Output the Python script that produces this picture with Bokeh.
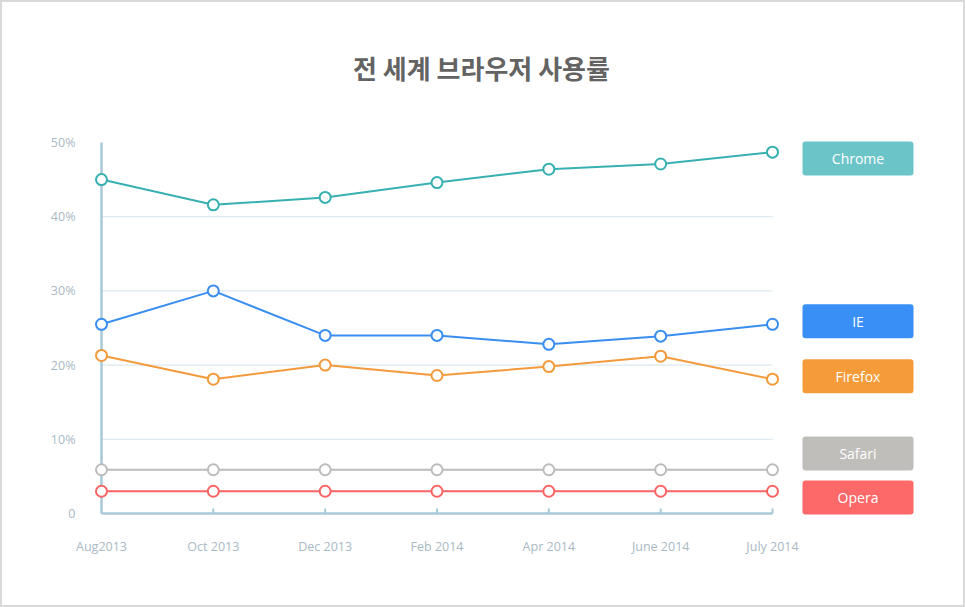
from bokeh.plotting import figure
from bokeh.models import Label, ColumnDataSource, Range1d, BoxAnnotation
from bokeh.core.properties import value
from bokeh.embed import file_html
from bokeh.resources import INLINE

# ---------------- data ----------------
months = ["Aug2013", "Oct 2013", "Dec 2013", "Feb 2014", "Apr 2014", "June 2014", "July 2014"]
browsers = ["Chrome", "IE", "Firefox", "Safari", "Opera"]
chrome = [45.0, 41.6, 42.6, 44.6, 46.4, 47.1, 48.7]
ie = [25.5, 30.0, 24.0, 24.0, 22.8, 23.9, 25.5]
firefox = [21.3, 18.1, 20.0, 18.6, 19.8, 21.2, 18.1]
safari = [5.9, 5.9, 5.9, 5.9, 5.9, 5.9, 5.9]
opera = [3.0, 3.0, 3.0, 3.0, 3.0, 3.0, 3.0]
y_ticks = [0, 10, 20, 30, 40, 50]
y_tick_labels = ["0", "10%", "20%", "30%", "40%", "50%"]
title_text = "전 세계 브라우저 사용률"

series = [chrome, ie, firefox, safari, opera]
line_colors = ["#38b0b1", "#3a8ef0", "#f39b3c", "#bcbcbc", "#fc6464"]
box_colors = ["#6bc5c8", "#3a8ff6", "#f59b3a", "#c0bebb", "#fd6868"]

# ---------------- layout ----------------
W, H = 965, 607
ORIGIN_X, ORIGIN_Y = 101, 513          # px of (first month, 0%)
PX_PER_CAT = (772 - 101) / (len(months) - 1)
PX_PER_PCT = (513 - 142) / 50.0

x0 = (0 - ORIGIN_X) / PX_PER_CAT
x1 = (W - ORIGIN_X) / PX_PER_CAT
y0 = (ORIGIN_Y - H) / PX_PER_PCT
y1 = (ORIGIN_Y - 0) / PX_PER_PCT

p = figure(width=W, height=H, output_backend="svg", toolbar_location=None,
           x_axis_location=None, y_axis_location=None,
           x_range=Range1d(x0, x1), y_range=Range1d(y0, y1),
           min_border=0)
p.xgrid.visible = False
p.ygrid.visible = False
p.background_fill_color = "white"
p.border_fill_color = "white"
p.outline_line_color = "#d9d9d9"
p.outline_line_width = 3

idx = list(range(len(months)))
last_i = idx[-1]
axis_color = "#a8c9d7"
grid_color = "#d3e4eb"
label_color = "#a9b9c4"
font = "Open Sans"

# gridlines (10..40) across the data span only
grid_vals = [t for t in y_ticks if 0 < t < max(y_ticks)]
p.segment(x0=[0] * len(grid_vals), x1=[last_i] * len(grid_vals),
          y0=grid_vals, y1=grid_vals, line_color=grid_color, line_width=1)

# axes
p.segment(x0=[0], x1=[0], y0=[0], y1=[max(y_ticks)], line_color=axis_color, line_width=2.5)
p.segment(x0=[0], x1=[last_i], y0=[0], y1=[0], line_color=axis_color, line_width=2.5)
tick_len = 5 / PX_PER_PCT
p.segment(x0=idx[1:], x1=idx[1:], y0=[0] * (len(idx) - 1), y1=[tick_len] * (len(idx) - 1),
          line_color=axis_color, line_width=2)

# tick labels
p.text(x=idx, y=[0] * len(idx), text=months, y_offset=33,
       text_align="center", text_baseline="middle", text_color=label_color,
       text_font=value(font), text_font_size="12.5px")
p.text(x=[0] * len(y_ticks), y=y_ticks, text=y_tick_labels, x_offset=-26,
       text_align="right", text_baseline="middle", text_color=label_color,
       text_font=value(font), text_font_size="12.5px")

# series
for s, c in zip(series, line_colors):
    p.line(idx, s, line_color=c, line_width=2)
    p.scatter(idx, s, size=11, marker="circle", fill_color="white", line_color=c, line_width=2)

# legend boxes: near last values, overlaps pushed apart symmetrically, then clamped to 0..50
box_w, box_h, gap = 111, 34, 10
half = box_h / 2 / PX_PER_PCT
spacing = (box_h + gap) / PX_PER_PCT
lift = 3 / PX_PER_PCT
lo = half - 1 / PX_PER_PCT
hi = max(y_ticks) - half + 1 / PX_PER_PCT
last_vals = [s[-1] for s in series]
order = sorted(range(len(series)), key=lambda k: last_vals[k])
nominal = [last_vals[k] + lift for k in order]
clusters = []
for v in nominal:
    clusters.append([v])
    while len(clusters) > 1:
        a, b = clusters[-2], clusters[-1]
        ca = sum(x - i * spacing for i, x in enumerate(a)) / len(a)
        cb = sum(x - i * spacing for i, x in enumerate(b)) / len(b)
        if cb < ca + len(a) * spacing:
            clusters[-2:] = [a + b]
        else:
            break
placed = []
for cl in clusters:
    base = sum(x - i * spacing for i, x in enumerate(cl)) / len(cl)
    placed += [base + i * spacing for i in range(len(cl))]
for i in range(len(placed)):
    placed[i] = max(placed[i], lo if i == 0 else placed[i - 1] + spacing)
for i in reversed(range(len(placed))):
    placed[i] = min(placed[i], hi if i == len(placed) - 1 else placed[i + 1] - spacing)
centers = {k: placed[j] for j, k in enumerate(order)}

leg_x = last_i + (857.5 - 772) / PX_PER_CAT
bw = box_w / 2 / PX_PER_CAT
for k in range(len(series)):
    p.add_layout(BoxAnnotation(left=leg_x - bw, right=leg_x + bw,
                               bottom=centers[k] - half, top=centers[k] + half,
                               fill_color=box_colors[k], fill_alpha=1.0,
                               line_color=None, border_radius=3, level="underlay"))
src = ColumnDataSource(dict(
    x=[leg_x] * len(series),
    y=[centers[k] for k in range(len(series))],
    name=browsers,
))
p.text(x="x", y="y", text="name", source=src, text_align="center", text_baseline="middle",
       text_color="white", text_font=value(font), text_font_size="14px")

# title
p.add_layout(Label(x=481, y=H - 67, x_units="screen", y_units="screen",
                   text=title_text, text_align="center", text_baseline="middle",
                   text_font="Noto Sans CJK KR", text_font_style="bold",
                   text_font_size="26px", text_color="#636363"))

open("out.html", "w").write(file_html(p, INLINE))
